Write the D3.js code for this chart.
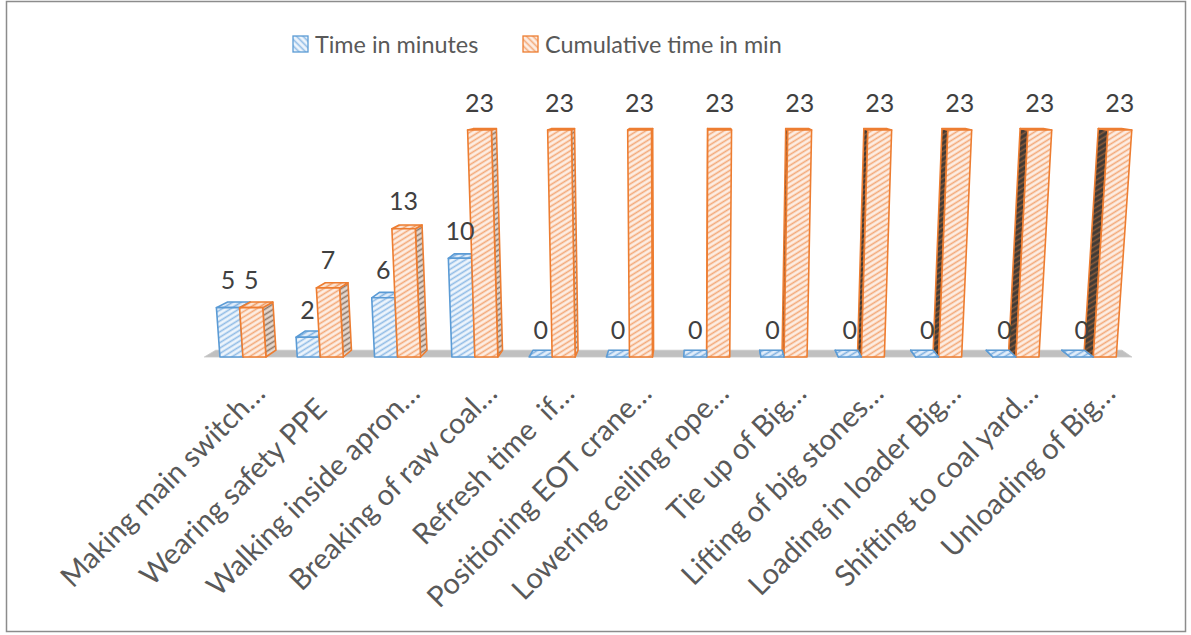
<!DOCTYPE html>
<html>
<head>
<meta charset="utf-8">
<script src="https://cdn.jsdelivr.net/npm/d3@7"></script>
<style>
  html, body { margin: 0; padding: 0; background: #fff; }
  svg { display: block; }
  text { font-family: Lato, "Open Sans", sans-serif; white-space: pre; }
</style>
</head>
<body>
<svg id="chart" width="1191" height="635"></svg>
<script>
// Activity steps and their durations (minutes)
const categories = [
  "Making main switch…",
  "Wearing safety PPE   ",
  "Walking inside apron…",
  "Breaking of raw coal…",
  "Refresh time  if…",
  "Positioning EOT crane…",
  "Lowering ceiling rope…",
  "Tie up of Big…",
  "Lifting of big stones…",
  "Loading in loader Big…",
  "Shifting to coal yard…",
  "Unloading of Big…"
];
const seriesNames = ["Time in minutes", "Cumulative time in min"];
const timeInMinutes = [5, 2, 6, 10, 0, 0, 0, 0, 0, 0, 0, 0];
const cumulativeTime = [5, 7, 13, 23, 23, 23, 23, 23, 23, 23, 23, 23];

const W = 1191, H = 635;
const svg = d3.select("#chart");

// ---- 3D view parameters ----
const BASE = 357;          // front edge of the floor
const VX = 700, VY = 74;   // depth vanishing point
const DEPTH = 0.024;       // bar depth as fraction towards the vanishing point
const TX = 679, TK = 6390; // vertical convergence (columns lean away from centre)

function proj(x, yy, z) {
  const px = x + (VX - x) * z;
  const py = yy + (VY - yy) * z;
  const tx = px + (px - TX) * (BASE - py) / TK;
  return [tx, py];
}

// ---- scales ----
const x = d3.scaleBand().domain(categories)
  .range([204.3, 1131.9]).paddingInner(0.405).paddingOuter(0.2025);
const xs = d3.scaleBand().domain(seriesNames).range([0, x.bandwidth()]);
const y = d3.scaleLinear().domain([0, 23]).range([BASE, 130]);

// ---- hatch patterns ----
const defs = svg.append("defs");
function hatch(id, bg, fg, angle, gap, sw) {
  const p = defs.append("pattern").attr("id", id)
    .attr("patternUnits", "userSpaceOnUse")
    .attr("width", gap).attr("height", gap)
    .attr("patternTransform", `rotate(${angle})`);
  p.append("rect").attr("width", gap).attr("height", gap).attr("fill", bg);
  p.append("line").attr("x1", 0).attr("y1", gap / 2).attr("x2", gap).attr("y2", gap / 2)
    .attr("stroke", fg).attr("stroke-width", sw);
}
const styles = {
  "Time in minutes": {
    stroke: "#5b9bd5",
    front: ["#eef5fc", "#8fbbe6"],
    top: ["#e3eefa", "#7fb0e0"],
    sideR: ["#c9d6e3", "#6e8fb0"],
    sideL: ["#33475c", "#5b87b5"]
  },
  "Cumulative time in min": {
    stroke: "#ed7d31",
    front: ["#fdeee4", "#f3a877"],
    top: ["#fbe5d6", "#f09a60"],
    sideR: ["#e5d8cf", "#8f7766"],
    sideL: ["#3f3a36", "#8a5a38"]
  }
};
seriesNames.forEach((s, i) => {
  const st = styles[s];
  ["front", "top", "sideR", "sideL"].forEach(face => {
    hatch(`h${i}-${face}`, st[face][0], st[face][1], -32, 4.6, 1.6);
  });
  hatch(`leg${i}`, st.front[0], st.front[1], 45, 4.6, 1.6);
});

// ---- background & border ----
svg.append("rect").attr("width", W).attr("height", H).attr("fill", "#fff");
svg.append("rect").attr("x", 6.5).attr("y", 1.5).attr("width", 1179).attr("height", 630)
  .attr("fill", "none").attr("stroke", "#8c8c8c").attr("stroke-width", 1.5);

const line = d3.line();

// ---- floor ----
const [f0, f1] = x.range();
svg.append("path")
  .attr("d", line([proj(f0, BASE, 0), proj(f1, BASE, 0), proj(f1, BASE, DEPTH), proj(f0, BASE, DEPTH)]) + "Z")
  .attr("fill", "#c0c0c0").attr("stroke", "#c8c8c8").attr("stroke-width", 0.8);

// ---- bars ----
const bars = [];
categories.forEach((c, ci) => {
  [timeInMinutes, cumulativeTime].forEach((vals, si) => {
    const s = seriesNames[si];
    const x0 = x(c) + xs(s), x1 = x0 + xs.bandwidth();
    bars.push({ c, s, si, v: vals[ci], x0, x1, top: y(vals[ci]) });
  });
});
// paint the bars farthest from the view centre first
const order = bars.slice().sort((a, b) =>
  Math.abs((b.x0 + b.x1) / 2 - VX) - Math.abs((a.x0 + a.x1) / 2 - VX));

const gBars = svg.append("g");
order.forEach(b => {
  const st = styles[b.s];
  const g = gBars.append("g");
  const faceAttrs = sel => sel.attr("stroke", st.stroke).attr("stroke-width", 1.6)
    .attr("stroke-linejoin", "round");
  if (b.x1 < VX) {
    g.append("path").attr("d", line([proj(b.x1, b.top, 0), proj(b.x1, b.top, DEPTH),
      proj(b.x1, BASE, DEPTH), proj(b.x1, BASE, 0)]) + "Z")
      .attr("fill", `url(#h${b.si}-sideR)`).call(faceAttrs);
  }
  if (b.x0 > VX) {
    g.append("path").attr("d", line([proj(b.x0, b.top, 0), proj(b.x0, b.top, DEPTH),
      proj(b.x0, BASE, DEPTH), proj(b.x0, BASE, 0)]) + "Z")
      .attr("fill", `url(#h${b.si}-sideL)`).call(faceAttrs);
  }
  g.append("path").attr("d", line([proj(b.x0, b.top, 0), proj(b.x1, b.top, 0),
    proj(b.x1, b.top, DEPTH), proj(b.x0, b.top, DEPTH)]) + "Z")
    .attr("fill", `url(#h${b.si}-top)`).call(faceAttrs);
  if (b.v > 0) {
    g.append("path").attr("d", line([proj(b.x0, b.top, 0), proj(b.x1, b.top, 0),
      proj(b.x1, BASE, 0), proj(b.x0, BASE, 0)]) + "Z")
      .attr("fill", `url(#h${b.si}-front)`).call(faceAttrs);
  }
});

// ---- value labels ----
svg.append("g").selectAll("text").data(bars).join("text")
  .attr("x", d => proj((d.x0 + d.x1) / 2, d.top, 0)[0])
  .attr("y", d => d.top - 18.5)
  .attr("text-anchor", "middle")
  .attr("font-size", 25)
  .attr("fill", "#404040")
  .text(d => d.v);

// ---- category labels ----
svg.append("g").selectAll("text").data(categories).join("text")
  .attr("transform", c => `translate(${x(c) + x.bandwidth() + 1},395) rotate(-45)`)
  .attr("text-anchor", "end")
  .attr("font-size", 29)
  .attr("fill", "#595959")
  .text(c => c);

// ---- legend ----
const legendX = [293, 523];
const legend = svg.append("g").selectAll("g").data(seriesNames).join("g")
  .attr("transform", (d, i) => `translate(${legendX[i]},36)`);
legend.append("rect").attr("width", 15).attr("height", 16)
  .attr("fill", (d, i) => `url(#leg${i})`)
  .attr("stroke", d => styles[d].stroke).attr("stroke-width", 1.3);
legend.append("text").attr("x", 22).attr("y", 17)
  .attr("font-size", 23.4).attr("fill", "#595959")
  .text(d => d);
</script>
</body>
</html>
